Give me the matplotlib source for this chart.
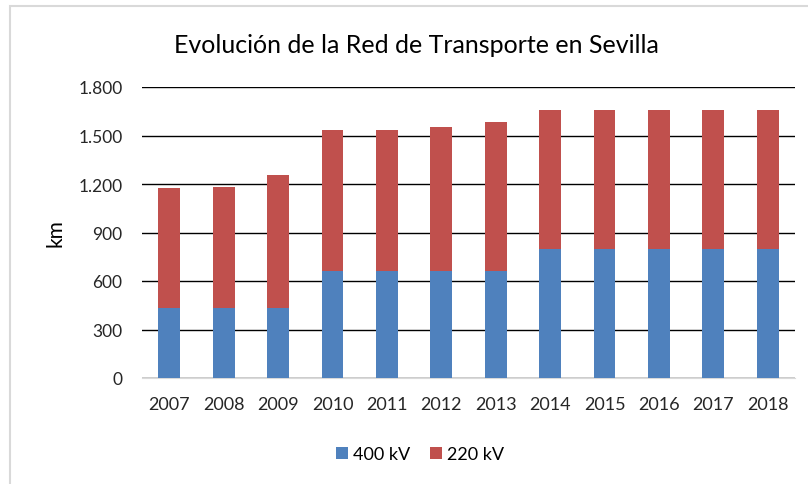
import matplotlib
matplotlib.use("Agg")
import matplotlib.pyplot as plt
from matplotlib.patches import Rectangle

years = ["2007", "2008", "2009", "2010", "2011", "2012",
         "2013", "2014", "2015", "2016", "2017", "2018"]
kv400 = [433, 433, 433, 659, 659, 659, 659, 798, 798, 798, 798, 798]
total = [1175, 1181, 1255, 1534, 1534, 1554, 1583, 1657, 1657, 1657, 1657, 1657]
kv220 = [t - b for t, b in zip(total, kv400)]
yticks = [0, 300, 600, 900, 1200, 1500, 1800]
ytick_labels = ["0", "300", "600", "900", "1.200", "1.500", "1.800"]

plt.rcParams['font.family'] = ['Lato', 'DejaVu Sans']

fig = plt.figure(figsize=(8.08, 4.85), dpi=100)
# light grey chart frame, cut off at right and bottom like the original
fig.patches.append(Rectangle((10 / 808, -0.1), 1.2, 1 - 7 / 485 + 0.1,
                             transform=fig.transFigure, fill=False,
                             edgecolor="#d9d9d9", linewidth=1.5))

ax = fig.add_axes([142 / 808, 1 - 379 / 485, 653 / 808, 291 / 485])
x = range(len(years))
ax.bar(x, kv400, width=0.4, color="#4f81bd", label="400 kV", zorder=3)
ax.bar(x, kv220, width=0.4, bottom=kv400, color="#c0504d", label="220 kV", zorder=3)

ax.set_ylim(0, 1800)
ax.set_xlim(-0.5, len(years) - 0.5)
ax.set_yticks(yticks)
ax.set_yticklabels(ytick_labels)
ax.set_xticks(list(x))
ax.set_xticklabels(years)
ax.tick_params(axis="both", length=0, colors="#262626")
ax.tick_params(axis="y", pad=14, labelsize=12.5)
ax.tick_params(axis="x", pad=13, labelsize=13)
ax.yaxis.grid(True, color="#000000", linewidth=1)
ax.set_axisbelow(True)
for side in ["top", "right", "left"]:
    ax.spines[side].set_visible(False)
ax.spines["bottom"].set_color("#d9d9d9")
ax.set_ylabel("km", fontsize=15, labelpad=9)

fig.text(416 / 808, 1 - 53.3 / 485, "Evolución de la Red de Transporte en Sevilla",
         ha="center", va="baseline", fontsize=18, color="#000000")

fig.legend(loc="center", bbox_to_anchor=(420 / 808, 1 - 455 / 485), ncol=2,
           frameon=False, fontsize=13, handlelength=0.65, handleheight=0.65,
           handletextpad=0.3, columnspacing=1.1)

fig.savefig("out.png", dpi=100)
